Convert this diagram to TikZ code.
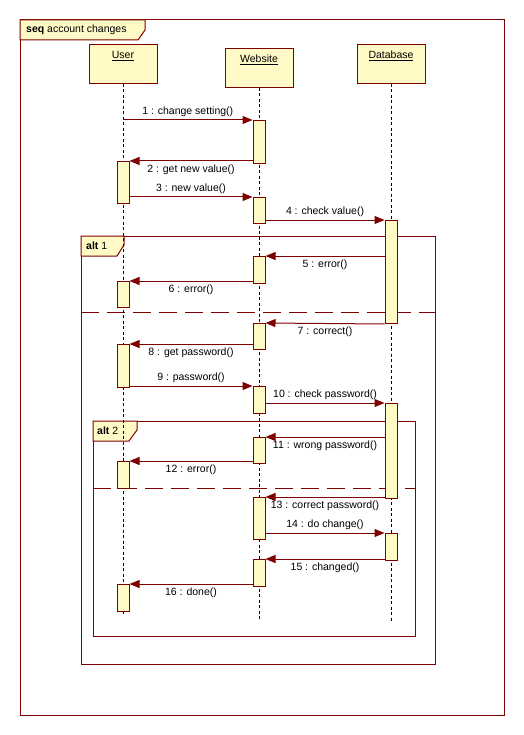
\documentclass[tikz,border=0pt]{standalone}
\usepackage{fontspec}
\setmainfont{Liberation Sans}
\usepackage{tikz}
\usetikzlibrary{arrows.meta,positioning,calc}
\definecolor{seqred}{RGB}{128,0,0}
\definecolor{seqyellow}{RGB}{255,250,198}
\tikzset{
	>={Triangle[length=10pt,width=8pt]},
	headbox/.style={
		rectangle,
		fill=seqyellow,
		draw=seqred, line width=1pt,
		minimum width=68pt,
		text height=10pt,
		text depth=21pt,
		inner ysep=4pt,
		anchor=north},
	activ/.style={
		rectangle,
		fill=seqyellow,
		draw=seqred, line width=1pt,
		minimum width=12pt,
		inner sep=0pt,
		anchor=north},
	lifeline/.style={draw=black, line width=0.9pt, dash pattern=on 3pt off 2.5pt},
	msg/.style={draw=seqred, line width=1pt, ->},
	msglabel/.style={midway, text=black, inner sep=3pt},
	frame/.style={draw=seqred, line width=1pt},
	tab/.style={draw=seqred, fill=seqyellow, line width=1pt},
	tabtext/.style={anchor=west, inner sep=0pt, text=black},
	divider/.style={draw=seqred, line width=1pt, dash pattern=on 18pt off 8pt},
}

\begin{document}
\begin{tikzpicture}
[x=1pt, y=-1pt, font=\fontsize{10.5}{12}\selectfont]
\useasboundingbox (0,0) rectangle (523,735);
\draw[frame] (20,20) rectangle (504,715);
\draw[tab] (20,20) -- (145,20) -- (145,30) -- (138,40) -- (20,40) -- cycle;
\node[tabtext] (seqtitle) at (26,30) {\textbf{seq} account changes};
\draw[frame] (81,236) rectangle (435,664);
\draw[tab] (81,236) -- (124,236) -- (124,245) -- (117,256) -- (81,256) -- cycle;
\node[tabtext] (alttitle1) at (86,246) {\textbf{alt} 1};
\draw[divider] (81,312) -- (435,312);
\draw[frame] (93,421) rectangle (415,636);
\draw[tab] (93,421) -- (137,421) -- (137,430) -- (129,441) -- (93,441) -- cycle;
\node[tabtext] (alttitle2) at (97,431) {\textbf{alt} 2};
\draw[divider] (93,488) -- (415,488);
\node[headbox] (user) at (123,44) {\underline{User}};
\node[headbox] (web) at (259,48) {\underline{Website}};
\node[headbox] (db) at (391,44) {\underline{Database}};
\coordinate (userend) at (123,614);
\coordinate (webend) at (259,619);
\coordinate (dbend) at (391,621);
\draw[lifeline] (user.south) -- (userend);
\draw[lifeline] (web.south) -- (webend);
\draw[lifeline] (db.south) -- (dbend);
\node[activ, minimum height=42pt] (u1) at (123,161) {};
\node[activ, minimum height=26pt] (u2) at (123,281) {};
\node[activ, minimum height=43pt] (u3) at (123,344) {};
\node[activ, minimum height=27pt] (u4) at (123,461) {};
\node[activ, minimum height=27pt] (u5) at (123,584) {};
\node[activ, minimum height=43pt] (w1) at (259,120) {};
\node[activ, minimum height=26pt] (w2) at (259,197) {};
\node[activ, minimum height=27pt] (w3) at (259,256) {};
\node[activ, minimum height=26pt] (w4) at (259,323) {};
\node[activ, minimum height=27pt] (w5) at (259,386) {};
\node[activ, minimum height=26pt] (w6) at (259,437) {};
\node[activ, minimum height=42pt] (w7) at (259,497) {};
\node[activ, minimum height=27pt] (w8) at (259,559) {};
\node[activ, minimum height=103pt] (d1) at (391,220) {};
\node[activ, minimum height=95pt] (d2) at (391,403) {};
\node[activ, minimum height=27pt] (d3) at (391,533) {};
\draw[msg] (user.south |- w1.north) -- (w1.north west) node[msglabel, above] {1 : change setting()};
\draw[msg] (w1.west |- u1.north) -- (u1.north east) node[msglabel, below] {2 : get new value()};
\draw[msg] (u1.east |- w2.north) -- (w2.north west) node[msglabel, above] {3 : new value()};
\draw[msg] (w2.east |- d1.north) -- (d1.north west) node[msglabel, above] {4 : check value()};
\draw[msg] (d1.west |- w3.north) -- (w3.north east) node[msglabel, below] {5 : error()};
\draw[msg] (w3.west |- u2.north) -- (u2.north east) node[msglabel, below] {6 : error()};
\draw[msg] (d1.south west) -- (w4.north east) node[msglabel, below] {7 : correct()};
\draw[msg] (w4.west |- u3.north) -- (u3.north east) node[msglabel, below] {8 : get password()};
\draw[msg] (u3.east |- w5.north) -- (w5.north west) node[msglabel, above] {9 : password()};
\draw[msg] (w5.east |- d2.north) -- (d2.north west) node[msglabel, above] {10 : check password()};
\draw[msg] (d2.west |- w6.north) -- (w6.north east) node[msglabel, below] {11 : wrong password()};
\draw[msg] (w6.west |- u4.north) -- (u4.north east) node[msglabel, below] {12 : error()};
\draw[msg] (d2.west |- w7.north) -- (w7.north east) node[msglabel, below] {13 : correct password()};
\draw[msg] (w7.east |- d3.north) -- (d3.north west) node[msglabel, above] {14 : do change()};
\draw[msg] (d3.west |- w8.north) -- (w8.north east) node[msglabel, below] {15 : changed()};
\draw[msg] (w8.west |- u5.north) -- (u5.north east) node[msglabel, below] {16 : done()};
\end{tikzpicture}
\end{document}
